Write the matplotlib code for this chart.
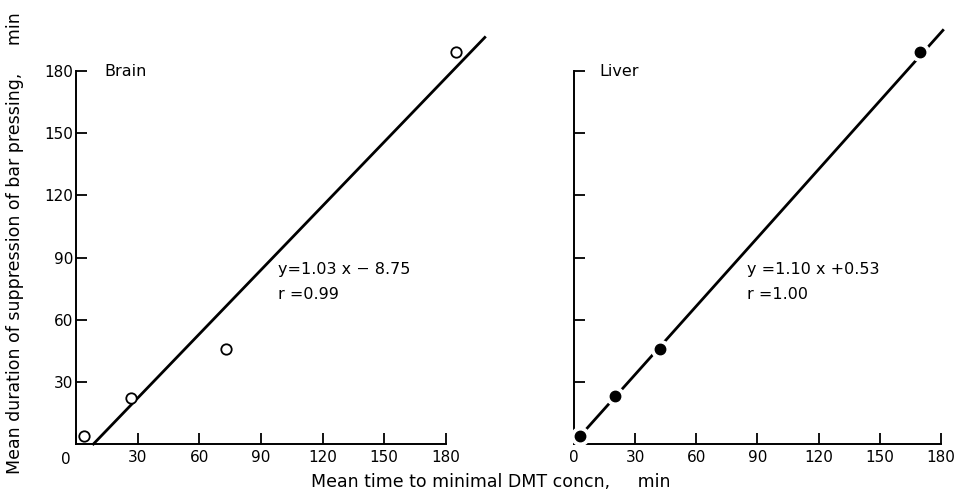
import numpy as np
import matplotlib
matplotlib.use("Agg")
import matplotlib.pyplot as plt

# data
brain_x = [4, 27, 73, 185]
brain_y = [4, 22, 46, 189]
liver_x = [3, 20, 42, 170]
liver_y = [4, 23, 46, 189]

# regression lines (slope, intercept, x range drawn)
brain_fit = (1.03, -8.75)
brain_fit_x = [8.5, 199]
liver_fit = (1.10, 0.53)
liver_fit_x = [3.8, 181]

ticks = [0, 30, 60, 90, 120, 150, 180]
tick_labels = ['0', '30', '60', '90', '120', '150', '180']

plt.rcParams['font.family'] = ['DejaVu Sans']

fig = plt.figure(figsize=(9.63, 4.96), dpi=100)
ax1 = fig.add_axes([0.0789, 0.1048, 0.384, 0.752])
ax2 = fig.add_axes([0.596, 0.1048, 0.381, 0.752])


def style(ax, ylabels):
    ax.set_xlim(0, 180)
    ax.set_ylim(0, 180)
    for s in ['top', 'right']:
        ax.spines[s].set_visible(False)
    for s in ['left', 'bottom']:
        ax.spines[s].set_linewidth(1.4)
    ax.set_xticks(ticks)
    ax.set_yticks(ticks[1:])
    ax.tick_params(direction='in', length=8, width=1.3, labelsize=11)
    ax.tick_params(axis='x', pad=4)
    ax.tick_params(axis='y', pad=2)
    if not ylabels:
        ax.set_yticklabels([])


style(ax1, True)
style(ax2, False)

# the left panel's "0" sits at the corner, left of the origin
ax1.set_xticklabels([''] + tick_labels[1:])
ax1.annotate('0', xy=(0, 0), xycoords='axes fraction', xytext=(-7, -11),
             textcoords='offset points', ha='center', va='center', fontsize=11)

# Brain
bx = np.array(brain_fit_x)
ax1.plot(bx, brain_fit[0] * bx + brain_fit[1], color='black', lw=2.0, clip_on=False)
ax1.plot(brain_x, brain_y, 'o', mfc='white', mec='black', mew=1.3, ms=7.5,
         clip_on=False, zorder=5)
ax1.text(14, 180, 'Brain', fontsize=11.5, va='center')
ax1.text(98.5, 84, 'y=1.03 x − 8.75', fontsize=11.5, va='center')
ax1.text(98.5, 72, 'r =0.99', fontsize=11.5, va='center')

# Liver
lx = np.array(liver_fit_x)
ax2.plot(lx, liver_fit[0] * lx + liver_fit[1], color='black', lw=2.0, clip_on=False)
ax2.plot(liver_x, liver_y, 'o', color='white', ms=13, clip_on=False, zorder=4)
ax2.plot(liver_x, liver_y, 'o', color='black', ms=7.5, clip_on=False, zorder=5)
ax2.text(12.7, 180, 'Liver', fontsize=11.5, va='center')
ax2.text(85, 84, 'y =1.10 x +0.53', fontsize=11.5, va='center')
ax2.text(85, 72, 'r =1.00', fontsize=11.5, va='center')

fig.text(0.016, 0.51, 'Mean duration of suppression of bar pressing,     min',
         rotation=90, ha='center', va='center', fontsize=12.5)
fig.text(0.51, 0.028, 'Mean time to minimal DMT concn,     min',
         ha='center', va='center', fontsize=12.5)

fig.savefig('out.png', dpi=100)
